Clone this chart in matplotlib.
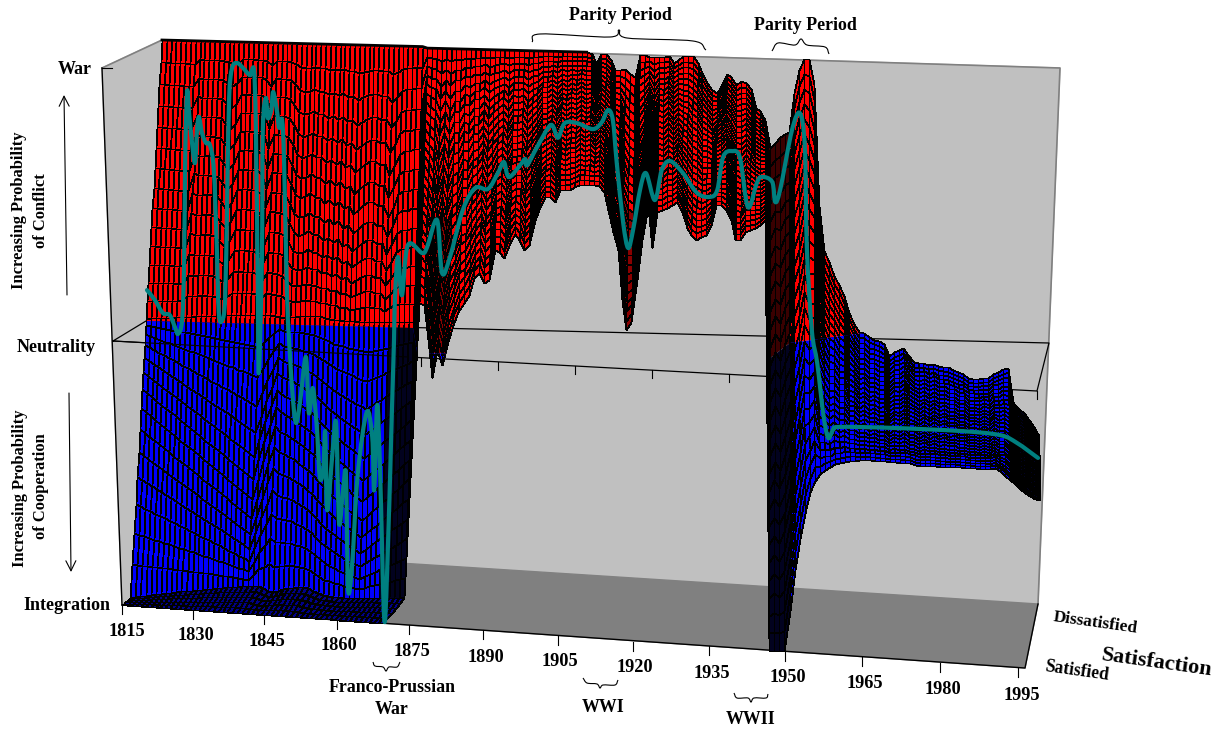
import numpy as np
import matplotlib
matplotlib.use('Agg')
import matplotlib.pyplot as plt
from matplotlib.colors import ListedColormap
from matplotlib.patches import PathPatch
from matplotlib.path import Path

plt.rcParams['font.family'] = ['Liberation Serif', 'DejaVu Serif']
plt.rcParams['font.weight'] = 'bold'

# Surface edges, one value per year 1815-1995 (+1 war, 0 neutrality, -1 integration)
years = np.arange(1815, 1996)
top_level = np.array(
    [1.0] * 55 + [0.995] * 34 +
    [.99, .957, .99, .99, .97, .935, .935, .937, .92, .91,
     .99, .99, .985, .985, .985, .985, .99, .965, .975, .99,
     .99, .99, .965, .93, .895, .87, .86, .895, .93, .92,
     .89, .905, .90, .88, .81, .80, .77, .67, .69, .71,
     .72, .73, .87, .95, .99, .99, .90, .47, .31, .27,
     .22, .19, .15, .09, .05, .025, .02, .006, -.002, -.007,
     -.018, -.06, -.045, -.037, -.03, -.055, -.08, -.083, -.08, -.088,
     -.084, -.09, -.093, -.095, -.104, -.11, -.118, -.13, -.135, -.133,
     -.13, -.13, -.115, -.105, -.097, -.09, -.217, -.235, -.252, -.275,
     -.30, -.33])
low_level = np.array(
    [-.984, -.981, -.979, -.976, -.974, -.971, -.968, -.966, -.963, -.961,
     -.958, -.956, -.954, -.952, -.95, -.947, -.945, -.943, -.941, -.94,
     -.938, -.937, -.935, -.934, -.933, -.932, -.94, -.948, -.954, -.948,
     -.942, -.936, -.935, -.934, -.933, -.936, -.945, -.953, -.96, -.962,
     -.964, -.965, -.966, -.967, -.967, -.965, -.965, -.964, -.964, -.963,
     -.963, -.962, -.962, -.961, -.96,
     .088, .081, -.043, -.178, -.078, -.13, -.059, .012, .059, .092,
     .121, .181, .2, .164, .176, .283, .276, .255, .309, .342,
     .321, .285, .304, .393, .44, .475, .476, .459, .502, .502,
     .503, .514, .522, .522, .522, .523, .52, .5, .435, .357,
     .294, .116, .01, .039, .189, .332, .449, .304, .432, .44,
     .448, .459, .47, .435, .378, .354, .336, .347, .355, .391,
     .463, .463, .446, .41, .34, .34, .369, .377, .384, .395,
     .414,
     -1.12, -1.12, -1.12, -1.12, -.975, -.83, -.72, -.625, -.55, -.51,
     -.485, -.47, -.46, -.45, -.445, -.44, -.435, -.435, -.433, -.433,
     -.432, -.433, -.434, -.435, -.436, -.437, -.438, -.44, -.44, -.445,
     -.447, -.447, -.448, -.448, -.449, -.449, -.45, -.45, -.45, -.451,
     -.451, -.452, -.452, -.452, -.452, -.45, -.46, -.475, -.49, -.505,
     -.52, -.535, -.545, -.555, -.56])

# Satisfaction path across the surface
line_years = [1815.0, 1816.6, 1818.2, 1819.6, 1820.7, 1821.3, 1822.1, 1822.5, 1822.7, 1823.1,
              1823.5, 1824.1, 1824.7, 1825.1, 1825.5, 1826.1, 1826.9, 1827.7, 1828.5, 1829.1,
              1829.5, 1830.2, 1830.8, 1831.2, 1831.6, 1832.2, 1833.2, 1834.4, 1835.8, 1836.6,
              1837.0, 1837.4, 1837.6, 1838.2, 1838.4, 1839.0, 1839.4, 1840.1, 1840.5, 1841.3,
              1841.7, 1842.3, 1842.7, 1843.3, 1843.9, 1844.5, 1845.1, 1845.9, 1847.1, 1847.7,
              1848.5, 1849.3, 1849.9, 1850.6, 1851.0, 1851.4, 1852.4, 1853.2, 1853.8, 1854.6,
              1855.2, 1855.6, 1856.4, 1857.6, 1859.4, 1860.5, 1860.9, 1861.5, 1862.1, 1862.9,
              1863.5, 1864.5, 1864.9, 1865.1, 1865.7, 1866.5, 1867.7, 1870.6, 1871.6, 1873.6,
              1874.6, 1876.2, 1878.8, 1881.3, 1883.9, 1885.9, 1887.1, 1888.1, 1890.4, 1891.4,
              1891.8, 1893.8, 1896.6, 1898.0, 1899.4, 1901.9, 1905.1, 1906.9, 1908.1, 1909.1,
              1909.9, 1911.2, 1912.2, 1913.2, 1914.6, 1915.8, 1917.6, 1919.0, 1920.7, 1923.3,
              1926.1, 1928.7, 1930.2, 1931.4, 1933.2, 1934.8, 1936.4, 1938.2, 1939.2, 1941.3,
              1941.9, 1942.9, 1945.3, 1946.9, 1947.9, 1948.3, 1949.3, 1950.4, 1951.6, 1952.6,
              1953.6, 1955.0, 1965.7, 1979.2, 1987.3, 1990.8, 1995.0]
line_levels = [.110, .075, .030, .023, -.022, -.043, .007, .210, .565, .818,
               .744, .637, .567, .684, .731, .674, .639, .632, .543, .269,
               .035, .010, .092, .448, .804, .908, .926, .909, .884, .902,
               .689, .095, -.175, .216, .690, .804, .733, .762, .826, .752,
               .699, .727, .574, .098, -.116, -.269, -.350, -.278, -.114, -.313,
               -.224, -.362, -.540, -.515, -.379, -.657, -.468, -.346, -.702, -.584,
               -.531, -.932, -.857, -.522, -.305, -.393, -.582, -.279, -.520, -1.032,
               -.876, -.284, -.046, .107, .250, .114, .293, .266, .288, .385,
               .197, .254, .423, .502, .500, .558, .597, .544, .588, .610,
               .588, .653, .733, .688, .741, .742, .722, .748, .791, .757,
               .604, .391, .302, .367, .510, .570, .475, .583, .615, .573,
               .504, .491, .516, .635, .656, .632, .458, .545, .567, .550,
               .479, .522, .736, .797, .677, .321, .026, -.091, -.268, -.356,
               -.327, -.316, -.315, -.320, -.331, -.358, -.409]

# Where the surface changes from red to blue
neutral_years = [1800, 1869, 1870, 1940, 1945, 1960, 1961, 2010]
neutral_levels = [0, 0, -.09, -.09, -.02, .02, .1, .1]

# Row bend of the coarse part of the surface
bend_years = [1815, 1838, 1842, 1860, 1869, 1870]
bend_values = [.36, -.36, .2, -.3, 0, 0]

tick_years = np.arange(1815, 1996, 15)
tick_x = [122, 193, 264, 337, 409, 483, 558, 633, 709, 785, 862, 940, 1018]
tick_y = [605, 610, 615, 620, 625, 630, 636, 642, 646, 652, 657, 663, 668]
label_x = [127, 196, 267, 339, 412, 486, 560, 635, 712, 788, 865, 943, 1022]
label_y = [631, 636, 642, 646, 651, 657, 662, 667, 673, 678, 684, 690, 695]

braces = [
    [(532, 42), (540, 34), (610, 37), (619, 30), (627, 38), (693, 41), (706, 50)],
    [(772, 51), (778, 43), (795, 45), (801, 39), (807, 45), (825, 47), (829, 54)],
    [(373, 662), (375, 666), (383, 667), (386, 671), (389, 667), (397, 667), (400, 662)],
    [(583, 678), (587, 683), (597, 684), (600, 688), (603, 685), (615, 685), (618, 680)],
    [(734, 693), (737, 698), (748, 698), (751, 702), (754, 698), (766, 698), (768, 694)],
]


def surface_xy(year, level):
    # leaning projection of the back of the box
    dy = np.asarray(year, dtype=float) - 1815
    level = np.asarray(level, dtype=float)
    lean = 16 * (1 - dy / 180 / .72)
    return 146 + 4.95 * dy + lean * level, 321 + .1222 * dy - 281 * level


def line_xy(year, level):
    dy = np.asarray(year, dtype=float) - 1815
    return 147 + 4.95 * dy, 321 + .1222 * dy - 281 * np.asarray(level, dtype=float)


def smooth_path(x, y):
    # the original line is a smoothed one, so join the read points with curves
    pts = np.column_stack([x, y])
    tang = np.gradient(pts, axis=0)
    verts = [pts[0]]
    codes = [Path.MOVETO]
    for i in range(len(pts) - 1):
        verts += [pts[i] + tang[i] / 3, pts[i + 1] - tang[i + 1] / 3, pts[i + 1]]
        codes += [Path.CURVE4] * 3
    return Path(verts, codes)


fig = plt.figure(figsize=(12.25, 7.36), dpi=100)
ax = fig.add_axes([0, 0, 1, 1])
ax.set_xlim(0, 1225)
ax.set_ylim(736, 0)
ax.axis('off')

# Box walls and floor
ax.fill([162, 1060, 1038, 130], [40, 68, 604, 545], color='#C0C0C0', zorder=1)
ax.fill([102, 162, 132, 122], [68, 40, 600, 605], color='#C0C0C0', zorder=1)
ax.fill([132, 122, 1025, 1038, 150], [600, 605, 668, 604, 547], color='#808080', zorder=1)
ax.plot([102, 162, 1060, 1038], [68, 40, 68, 604], color='#808080', lw=1.2, zorder=2)
ax.plot([102, 122], [68, 605], color='k', lw=1, zorder=2)
ax.plot([102, 112], [68, 68], color='k', lw=.8, zorder=2)
ax.plot([122, 1025, 1038], [605, 668, 604], color='k', lw=1, zorder=2)
ax.plot([113, 146, 1049, 1037, 113], [341, 321, 343, 391, 341], color='k', lw=.9, zorder=2)
for x0, y0 in zip(np.linspace(113, 1037, 13)[1:], np.linspace(341, 391, 13)[1:]):
    ax.plot([x0, x0], [y0, y0 + 8], color='k', lw=.8, zorder=2)
for x0, y0 in zip(tick_x, tick_y):
    ax.plot([x0, x0], [y0, y0 + 9], color='k', lw=.8, zorder=2)

# Surface mesh
rows = np.linspace(0, 1, 29)
grid_year, grid_frac = np.meshgrid(years, rows)
line_at = np.interp(grid_year, line_years, line_levels)
bend_at = np.interp(grid_year, bend_years, bend_values)
frac = grid_frac.copy()
lower = grid_frac < .5
frac[lower] += bend_at[lower] * 4 * grid_frac[lower] * (.5 - grid_frac[lower])
coarse = grid_year < 1870
frac[coarse & ~lower] += (.16 * (line_at - .5) * 4 * (grid_frac - .5) * (1 - grid_frac))[coarse & ~lower]
frac[~coarse] += (.06 * (line_at - .4) * 4 * grid_frac * (1 - grid_frac))[~coarse]
# herringbone look of the fine cells
zig = np.where(grid_year % 2 == 0, 1, -1) * 4 * grid_frac * (1 - grid_frac)
frac[~coarse] += (.012 * zig)[~coarse]
grid_level = low_level + (top_level - low_level) * frac
mesh_x, mesh_y = surface_xy(grid_year, grid_level)

cell_year = grid_year[:-1, :-1]
cell_frac = grid_frac[:-1, :-1]
red_shade = np.zeros(cell_year.shape)
valley = ((cell_year >= 1872) & (cell_year < 1876)) | ((cell_year >= 1910) & (cell_year < 1913))
red_shade[valley & (cell_frac < .45)] = 1
red_shade[(cell_year >= 1940) & (cell_year < 1945)] = 2
blue_shade = np.zeros(cell_year.shape)
blue_shade[((cell_year >= 1864) & (cell_year < 1869)) | ((cell_year >= 1940) & (cell_year < 1945))
           | (cell_year >= 1989)] = 1

nx, ny = surface_xy(neutral_years, neutral_levels)
above = Path(np.column_stack([np.r_[nx[0], nx, nx[-1]], np.r_[-50, ny, -50]]))
below = Path(np.column_stack([np.r_[nx[0], nx, nx[-1]], np.r_[800, ny, 800]]))

red_mesh = ax.pcolormesh(mesh_x, mesh_y, red_shade, cmap=ListedColormap(['#FF0000', '#8A0000', '#3A0000']),
                         vmin=0, vmax=2, edgecolors='k', linewidth=.55, zorder=3)
red_mesh.set_clip_path(above, ax.transData)
blue_mesh = ax.pcolormesh(mesh_x, mesh_y, blue_shade, cmap=ListedColormap(['#0000FF', '#02021F']),
                          vmin=0, vmax=1, edgecolors='k', linewidth=.55, zorder=3)
blue_mesh.set_clip_path(below, ax.transData)

# Flat floor strip in front of the coarse part
strip_years = np.arange(1815, 1870)
strip_rows = np.linspace(0, 1, 6)
wall_x, wall_y = surface_xy(strip_years, low_level[:55])
front_x = np.interp(np.linspace(1815, 1869.6, 55), tick_years, tick_x)
front_y = np.interp(np.linspace(1815, 1869.6, 55), tick_years, tick_y)
strip_x = np.outer(1 - strip_rows, wall_x) + np.outer(strip_rows, front_x)
strip_y = np.outer(1 - strip_rows, wall_y) + np.outer(strip_rows, front_y)
ax.pcolormesh(strip_x, strip_y, np.zeros((5, 54)), cmap=ListedColormap(['#00008A']),
              edgecolors='k', linewidth=.7, zorder=4)

# Heavy rim and front line over the wall
rim_x, rim_y = surface_xy(years[:89], top_level[:89])
ax.plot(rim_x, rim_y, color='k', lw=2, zorder=5)
ax.plot([113, 408], [341, 357], color='k', lw=.8, zorder=5)

lx, ly = line_xy(line_years, line_levels)
ax.add_patch(PathPatch(smooth_path(lx, ly), fc='none', ec='#008080', lw=3, capstyle='round',
                       joinstyle='round', zorder=6))

# Text
for y_, x0, y0 in zip(tick_years, label_x, label_y):
    ax.text(x0, y0, str(y_), fontsize=13.2, ha='center', va='center', color='k')
ax.text(75, 70, 'War', fontsize=13, ha='center', va='center')
ax.text(56, 347, 'Neutrality', fontsize=13, ha='center', va='center')
ax.text(67, 605, 'Integration', fontsize=13, ha='center', va='center')
ax.text(19, 210, 'Increasing Probability', fontsize=11.9, rotation=90, ha='center', va='center')
ax.text(41, 211, 'of Conflict', fontsize=11.9, rotation=90, ha='center', va='center')
ax.text(20, 488, 'Increasing Probability', fontsize=11.9, rotation=90, ha='center', va='center')
ax.text(41, 486, 'of Cooperation', fontsize=11.9, rotation=90, ha='center', va='center')
ax.text(620, 15, 'Parity Period', fontsize=12.9, ha='center', va='center')
ax.text(805, 25, 'Parity Period', fontsize=12.9, ha='center', va='center')
ax.text(392, 687, 'Franco-Prussian', fontsize=12.9, ha='center', va='center')
ax.text(392, 709, 'War', fontsize=12.9, ha='center', va='center')
ax.text(603, 708, 'WWI', fontsize=12.9, ha='center', va='center')
ax.text(751, 720, 'WWII', fontsize=12.9, ha='center', va='center')
ax.text(1157, 663, 'Satisfaction', fontsize=16, rotation=-8, ha='center', va='center')
ax.text(1095, 623, 'Dissatisfied', fontsize=12.5, rotation=-8, ha='center', va='center')
ax.text(1077, 671, 'Satisfied', fontsize=12.7, rotation=-8, ha='center', va='center')

for start, end in [((67, 295), (64, 95)), ((69, 393), (71, 572))]:
    ax.annotate('', xy=end, xytext=start,
                arrowprops=dict(arrowstyle='->', color='k', lw=.8, mutation_scale=18, shrinkA=0, shrinkB=0))
for brace in braces:
    bx, by = zip(*brace)
    ax.add_patch(PathPatch(smooth_path(bx, by), fc='none', ec='k', lw=.8, zorder=5))

fig.savefig('out.png', dpi=100)
